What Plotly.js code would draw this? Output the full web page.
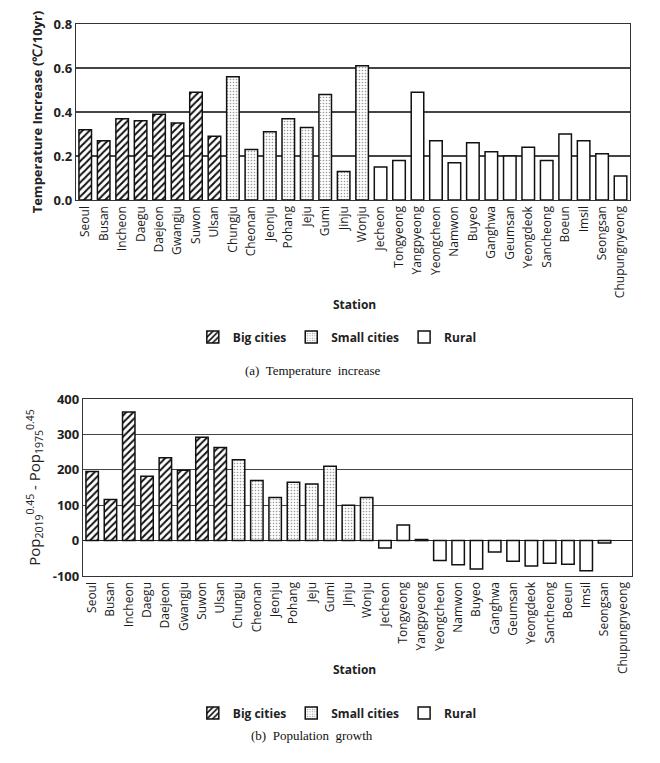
<!DOCTYPE html>
<html><head><meta charset="utf-8">
<script src="https://cdn.plot.ly/plotly-3.0.1.min.js"></script>
<style>html,body{margin:0;padding:0;background:#fff}#chart{width:660px;height:763px}</style>
</head><body><div id="chart"></div>
<script>
const bigCities = ["Seoul","Busan","Incheon","Daegu","Daejeon","Gwangju","Suwon","Ulsan"];
const smallCities = ["Chungju","Cheonan","Jeonju","Pohang","Jeju","Gumi","Jinju","Wonju"];
const rural = ["Jecheon","Tongyeong","Yangpyeong","Yeongcheon","Namwon","Buyeo","Ganghwa","Geumsan","Yeongdeok","Sancheong","Boeun","Imsil","Seongsan","Chupungnyeong"];

const tempBig = [0.32,0.27,0.37,0.36,0.39,0.35,0.49,0.29];
const tempSmall = [0.56,0.23,0.31,0.37,0.33,0.48,0.13,0.61];
const tempRural = [0.15,0.18,0.49,0.27,0.17,0.26,0.22,0.20,0.24,0.18,0.30,0.27,0.21,0.11];

const popBig = [195,116,363,182,234,199,292,263];
const popSmall = [228,170,122,165,160,210,100,122];
const popRural = [-21,44,3,-56,-68,-80,-32,-58,-72,-64,-67,-85,-7,null];

const tempTicks = [0,0.2,0.4,0.6,0.8];
const tempTickText = ["0.0","0.2","0.4","0.6","0.8"];
const popTicks = [-100,0,100,200,300,400];
const popTickText = ["-100","0","100","200","300","400"];

const allStations = bigCities.concat(smallCities, rural);

const patBig = {shape:"/", fgcolor:"#111", bgcolor:"#fff", size:5, solidity:0.4};
const patSmall = {shape:".", fgcolor:"#999", bgcolor:"#fff", size:3, solidity:0.22};
const patRural = {shape:"", bgcolor:"#fff"};
const line = {color:"#111", width:1.5};

function mk(x, y, name, pat, xa, ya, leg){
  return {type:"bar", x:x, y:y, name:name, xaxis:xa, yaxis:ya, legend:leg,
    marker:{color:"#fff", pattern:pat, line:line}, width:0.68};
}

const data = [
  mk(bigCities, tempBig, "Big cities", patBig, "x", "y", "legend"),
  mk(smallCities, tempSmall, "Small cities", patSmall, "x", "y", "legend"),
  mk(rural, tempRural, "Rural", patRural, "x", "y", "legend"),
  mk(bigCities, popBig, "Big cities", patBig, "x2", "y2", "legend2"),
  mk(smallCities, popSmall, "Small cities", patSmall, "x2", "y2", "legend2"),
  mk(rural, popRural, "Rural", patRural, "x2", "y2", "legend2")
];

const tickFont = {family:"Open Sans, sans-serif", size:12, color:"#1a1a1a"};
const yTickFont = {family:"Open Sans, sans-serif", size:13, color:"#222", weight:"bold"};

const xCommon = {type:"category", categoryorder:"array", categoryarray:allStations,
  tickangle:-90, tickfont:tickFont, showline:true, linecolor:"#333", linewidth:1.2,
  mirror:true, ticks:"", showgrid:false, zeroline:false};

const legCommon = {orientation:"h", xanchor:"center", yanchor:"middle",
  font:{family:"Open Sans, sans-serif", size:12, color:"#222", weight:"bold"},
  bgcolor:"rgba(0,0,0,0)", itemwidth:30, tracegroupgap:0};

const layout = {
  width:660, height:763,
  margin:{l:76, r:28, t:24, b:187},
  paper_bgcolor:"#fff", plot_bgcolor:"#fff",
  barmode:"overlay",
  showlegend:true,
  xaxis: Object.assign({}, xCommon, {domain:[0,0.996], anchor:"y"}),
  yaxis: {domain:[0.681,1], anchor:"x", range:[0,0.8], tickvals:tempTicks, ticktext:tempTickText,
    tickfont:yTickFont, showgrid:true, gridcolor:"#444", gridwidth:1.2,
    showline:true, linecolor:"#333", linewidth:1.2, mirror:true, zeroline:false,
    title:{text:"Temperature Increase (\u2103/10yr)", font:{family:"Open Sans, sans-serif", size:13, color:"#222", weight:"bold"}, standoff:8}},
  xaxis2: Object.assign({}, xCommon, {domain:[0.0126,1], anchor:"y2"}),
  yaxis2: {domain:[0,0.3207], anchor:"x2", range:[-100,400], tickvals:popTicks, ticktext:popTickText,
    tickfont:yTickFont, showgrid:true, gridcolor:"#444", gridwidth:1.2,
    showline:true, linecolor:"#333", linewidth:1.2, mirror:true,
    zeroline:true, zerolinecolor:"#222", zerolinewidth:1.2,
    title:{text:"Pop<sub>2019</sub><sup>0.45</sup> - Pop<sub>1975</sub><sup>0.45</sup>", font:{family:"Open Sans, sans-serif", size:15, color:"#222"}, standoff:8}},
  legend: Object.assign({}, legCommon, {x:0.47, y:1 - (337-24)/552}),
  legend2: Object.assign({}, legCommon, {x:0.47, y:1 - (713-24)/552}),
  annotations:[
    {text:"Station", xref:"paper", yref:"paper", x:0.5, y:1-(304-24)/552, showarrow:false,
     font:{family:"Open Sans, sans-serif", size:12, color:"#222", weight:"bold"}},
    {text:"Station", xref:"paper", yref:"paper", x:0.5, y:1-(680-24)/552, showarrow:false,
     font:{family:"Open Sans, sans-serif", size:12, color:"#222", weight:"bold"}},
    {text:"(a)  Temperature  increase", xref:"paper", yref:"paper", x:0.425, y:1-(370-24)/552, showarrow:false,
     font:{family:"Liberation Serif, serif", size:13, color:"#111"}},
    {text:"(b)  Population  growth", xref:"paper", yref:"paper", x:0.425, y:1-(745-24)/552, showarrow:false,
     font:{family:"Liberation Serif, serif", size:13, color:"#111"}}
  ]
};

Plotly.newPlot("chart", data, layout, {displayModeBar:false, staticPlot:true});
</script></body></html>
